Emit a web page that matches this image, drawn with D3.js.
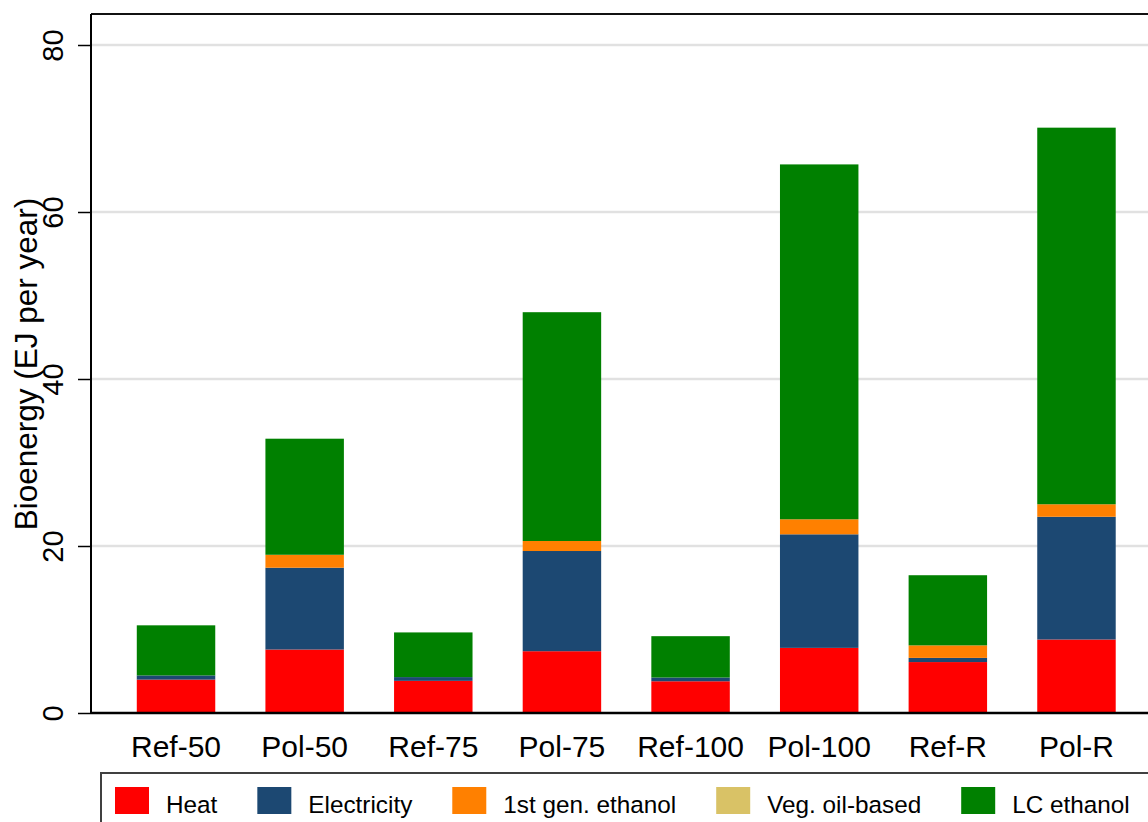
<!DOCTYPE html>
<html>
<head>
<meta charset="utf-8">
<script src="https://cdn.jsdelivr.net/npm/d3@7"></script>
<style>
  body { margin: 0; background: #fff; }
  text { font-family: "Liberation Sans", Arial, sans-serif; fill: #000; }
</style>
</head>
<body>
<div class="container"></div>
<script>
// values (EJ per year)
const scenarios = ["Ref-50", "Pol-50", "Ref-75", "Pol-75", "Ref-100", "Pol-100", "Ref-R", "Pol-R"]
const heat = [4.0, 7.6, 3.85, 7.4, 3.8, 7.8, 6.1, 8.8]
const electricity = [0.5, 9.8, 0.45, 12.0, 0.45, 13.6, 0.5, 14.7]
const firstGenEthanol = [0, 1.55, 0, 1.2, 0, 1.8, 1.5, 1.5]
const vegOil = [0, 0, 0, 0, 0, 0, 0, 0]
const lcEthanol = [6.0, 13.9, 5.35, 27.4, 4.95, 42.5, 8.4, 45.1]
const yTicks = [0, 20, 40, 60, 80]

const seriesNames = ["Heat", "Electricity", "1st gen. ethanol", "Veg. oil-based", "LC ethanol"]
const seriesColors = ["#ff0000", "#1c4872", "#ff8000", "#d9c266", "#008000"]
const seriesValues = [heat, electricity, firstGenEthanol, vegOil, lcEthanol]

const w = 1148
const h = 822
const plotLeft = 91
const plotTop = 14
const plotBottom = 713

const rows = scenarios.map((s, i) => {
    const r = { scenario: s }
    seriesNames.forEach((k, j) => { r[k] = seriesValues[j][i] })
    return r
})
const stacked = d3.stack().keys(seriesNames)(rows)

const xScale = d3.scaleBand().domain(scenarios).range([111.7, 1140.8])
    .paddingInner(0.39).paddingOuter(0.195)
const yScale = d3.scaleLinear().domain([0, 80]).range([plotBottom, 45])

const svg = d3.select(".container")
    .append("svg")
    .attr("width", w)
    .attr("height", h)

// grid
svg.append("g")
    .selectAll("line")
    .data(yTicks.filter((d) => d > 0))
    .enter()
    .append("line")
    .attr("x1", plotLeft)
    .attr("x2", w)
    .attr("y1", (d) => yScale(d))
    .attr("y2", (d) => yScale(d))
    .attr("stroke", "#e1e1e1")
    .attr("stroke-width", 2.5)

// bars
svg.append("g")
    .selectAll("g")
    .data(stacked)
    .enter()
    .append("g")
    .attr("fill", (d, i) => seriesColors[i])
    .selectAll("rect")
    .data((d) => d)
    .enter()
    .append("rect")
    .attr("x", (d) => xScale(d.data.scenario))
    .attr("y", (d) => yScale(d[1]))
    .attr("width", xScale.bandwidth())
    .attr("height", (d) => yScale(d[0]) - yScale(d[1]))

// frame
svg.append("line")
    .attr("x1", plotLeft).attr("x2", w)
    .attr("y1", plotTop).attr("y2", plotTop)
    .attr("stroke", "#111").attr("stroke-width", 2)

// y axis
const yAxis = d3.axisLeft(yScale).tickValues(yTicks).tickSize(13).tickSizeOuter(0)
const yg = svg.append("g")
    .attr("transform", "translate(" + plotLeft + ",0)")
    .call(yAxis)
yg.select(".domain").remove()
yg.selectAll(".tick line").attr("stroke", "#000").attr("stroke-width", 1.5)
yg.selectAll(".tick text")
    .attr("transform", "rotate(-90)")
    .attr("x", 0)
    .attr("y", -28)
    .attr("dy", 0)
    .style("text-anchor", "middle")
    .style("font-size", "29px")
    .style("font-family", "'Liberation Sans', Arial, sans-serif")
svg.append("line")
    .attr("x1", plotLeft).attr("x2", plotLeft)
    .attr("y1", plotTop).attr("y2", plotBottom)
    .attr("stroke", "#000").attr("stroke-width", 2)

// x axis
const xAxis = d3.axisBottom(xScale).tickSize(0).tickPadding(0)
const xg = svg.append("g")
    .attr("transform", "translate(0," + plotBottom + ")")
    .call(xAxis)
xg.select(".domain").remove()
xg.selectAll(".tick text")
    .attr("y", 44)
    .attr("dy", 0)
    .style("font-size", "30px")
    .style("font-family", "'Liberation Sans', Arial, sans-serif")
svg.append("line")
    .attr("x1", plotLeft).attr("x2", w)
    .attr("y1", plotBottom).attr("y2", plotBottom)
    .attr("stroke", "#000").attr("stroke-width", 2.5)

// y title
svg.append("text")
    .attr("transform", "rotate(-90)")
    .attr("x", -364)
    .attr("y", 37)
    .style("text-anchor", "middle")
    .style("font-size", "31.5px")
    .text("Bioenergy (EJ per year)")

// legend
const legend = svg.append("g").attr("id", "legend")
legend.append("rect")
    .attr("x", 101).attr("y", 773)
    .attr("width", w).attr("height", 100)
    .attr("fill", "#fff")
    .attr("stroke", "#404040").attr("stroke-width", 2)

let lx = 115
seriesNames.forEach((name, i) => {
    legend.append("rect")
        .attr("x", lx).attr("y", 787)
        .attr("width", 34).attr("height", 27)
        .attr("fill", seriesColors[i])
    const t = legend.append("text")
        .attr("x", lx + 51).attr("y", 813)
        .style("font-size", "24.3px")
        .text(name)
    lx += 51 + t.node().getComputedTextLength() + 40
})
</script>
</body>
</html>
